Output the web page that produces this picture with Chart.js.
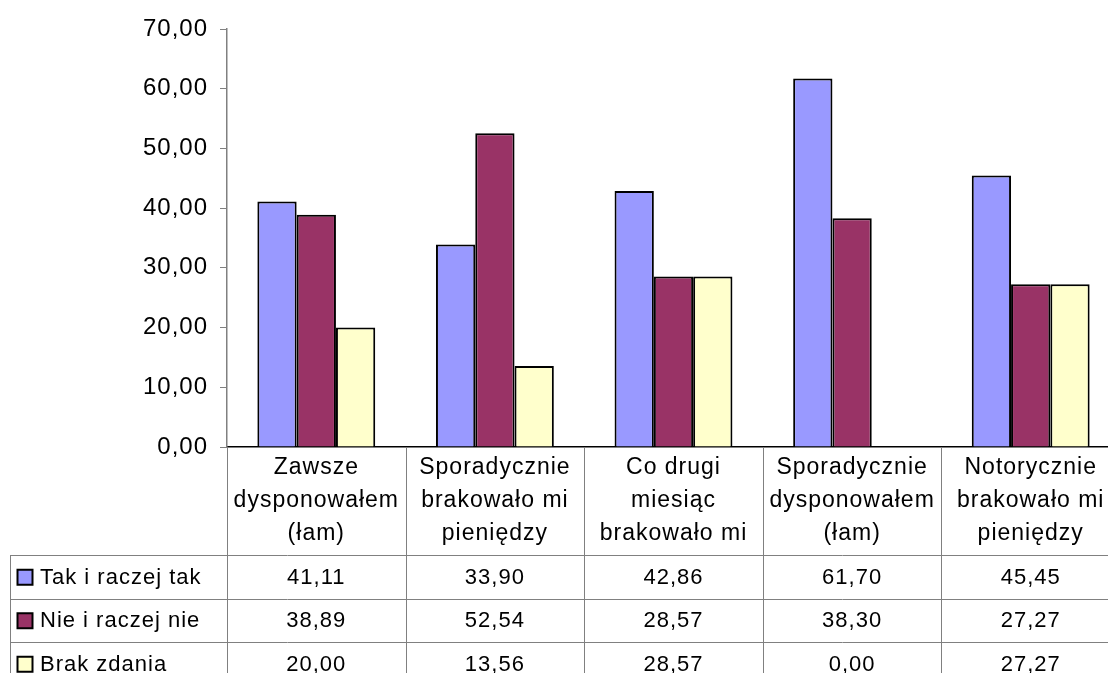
<!DOCTYPE html>
<html lang="pl">
<head>
<meta charset="UTF-8">
<title>Wykres</title>
<script src="https://cdn.jsdelivr.net/npm/chart.js"></script>
<style>
    html, body {
        margin: 0;
        padding: 0;
        background: #ffffff;
        overflow: hidden;
    }
    canvas {
        display: block;
    }
</style>
</head>
<body>
<canvas id="myChart" width="1120" height="673"></canvas>
<script>
    // data
    const categories = [
        ['Zawsze', 'dysponowałem', '(łam)'],
        ['Sporadycznie', 'brakowało mi', 'pieniędzy'],
        ['Co drugi', 'miesiąc', 'brakowało mi'],
        ['Sporadycznie', 'dysponowałem', '(łam)'],
        ['Notorycznie', 'brakowało mi', 'pieniędzy']
    ];
    const seriesNames = ['Tak i raczej tak', 'Nie i raczej nie', 'Brak zdania'];
    const takValues = [41.11, 33.90, 42.86, 61.70, 45.45];
    const nieValues = [38.89, 52.54, 28.57, 38.30, 27.27];
    const brakValues = [20.00, 13.56, 28.57, 0.00, 27.27];
    const yMin = 0, yMax = 70, yStep = 10;

    const colors = ['#9999ff', '#993366', '#ffffcc'];
    const FONT = "'Liberation Sans', Arial, sans-serif";
    const fmt = v => v.toFixed(2).replace('.', ',');

    const tableTop = 555;
    const rowH = 43.5;

    const spacingPlugin = {
        id: 'spacing',
        beforeLayout(chart) { chart.ctx.letterSpacing = '1px'; },
        beforeDraw(chart) { chart.ctx.letterSpacing = '1px'; }
    };

    // data table under the chart (Excel style)
    const tablePlugin = {
        id: 'dataTable',
        afterDraw(chart) {
            const ctx = chart.ctx;
            const x = chart.scales.x;
            const area = chart.chartArea;
            const catW = (area.right - area.left) / categories.length;
            const bottom = chart.height;
            ctx.save();
            ctx.letterSpacing = '1px';
            ctx.strokeStyle = '#808080';
            ctx.lineWidth = 1;
            ctx.beginPath();
            // column separators
            for (let k = 0; k <= categories.length; k++) {
                const cx = Math.round(area.left + k * catW) + 0.5;
                ctx.moveTo(cx, area.bottom);
                ctx.lineTo(cx, bottom);
            }
            // row lines
            for (let r = 0; r < seriesNames.length; r++) {
                const ry = Math.round(tableTop + r * rowH) + 0.5;
                ctx.moveTo(10, ry);
                ctx.lineTo(chart.width, ry);
            }
            ctx.moveTo(10.5, tableTop);
            ctx.lineTo(10.5, bottom);
            ctx.stroke();

            ctx.font = '22px ' + FONT;
            ctx.fillStyle = '#000';
            ctx.textBaseline = 'middle';
            chart.data.datasets.forEach((ds, r) => {
                const cy = tableTop + r * rowH + rowH / 2;
                // legend key
                ctx.fillStyle = ds.backgroundColor;
                ctx.fillRect(17.5, cy - 7, 15, 15);
                ctx.strokeStyle = '#000';
                ctx.lineWidth = 2;
                ctx.strokeRect(17.5, cy - 7, 15, 15);
                ctx.fillStyle = '#000';
                ctx.textAlign = 'left';
                ctx.fillText(ds.label, 40, cy + 1);
                ctx.textAlign = 'center';
                ds.data.forEach((v, i) => {
                    ctx.fillText(fmt(v), x.getPixelForValue(i), cy + 1);
                });
            });
            ctx.restore();
        }
    };

    const ctx = document.getElementById('myChart').getContext('2d');
    new Chart(ctx, {
        type: 'bar',
        data: {
            labels: categories,
            datasets: [
                { label: seriesNames[0], data: takValues, backgroundColor: colors[0] },
                { label: seriesNames[1], data: nieValues, backgroundColor: colors[1] },
                { label: seriesNames[2], data: brakValues, backgroundColor: colors[2] }
            ].map(d => Object.assign(d, {
                borderColor: '#000000',
                borderWidth: 2,
                borderSkipped: 'bottom',
                categoryPercentage: 0.66,
                barPercentage: 1.0
            }))
        },
        options: {
            responsive: false,
            animation: false,
            layout: { padding: { left: 0, right: 0, top: 29, bottom: 0 } },
            plugins: {
                legend: { display: false },
                tooltip: { enabled: false }
            },
            scales: {
                x: {
                    grid: { display: false, drawTicks: false },
                    border: { display: true, color: '#000000', width: 1.5 },
                    ticks: {
                        color: '#000',
                        padding: 4,
                        maxRotation: 0,
                        autoSkip: false,
                        font: { family: FONT, size: 23, lineHeight: 1.43 }
                    },
                    afterFit: s => { s.height = 673 - 29 - 418; }
                },
                y: {
                    min: yMin,
                    max: yMax,
                    grid: { display: true, drawOnChartArea: false, drawTicks: true, tickLength: 7, color: '#808080' },
                    border: { display: true, color: '#808080', width: 1.5 },
                    ticks: {
                        stepSize: yStep,
                        color: '#000',
                        padding: 12,
                        font: { family: FONT, size: 24 },
                        callback: v => fmt(v)
                    },
                    afterFit: s => { s.width = 227; }
                }
            }
        },
        plugins: [spacingPlugin, tablePlugin]
    });
</script>
</body>
</html>
